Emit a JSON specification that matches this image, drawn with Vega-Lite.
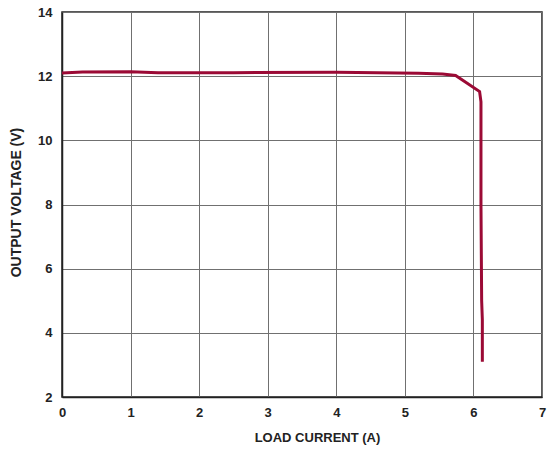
{
  "$schema": "https://vega.github.io/schema/vega-lite/v6.json",
  "width": 480,
  "height": 385,
  "autosize": {"type": "none"},
  "padding": {"left": 62, "top": 12, "right": 7, "bottom": 56},
  "background": "white",
  "config": {
    "view": {"stroke": "#222222", "strokeWidth": 1.5},
    "font": "Liberation Sans",
    "axis": {
      "labelFont": "Liberation Sans",
      "titleFont": "Liberation Sans",
      "labelFontWeight": "bold",
      "titleFontWeight": "bold",
      "labelFontSize": 13,
      "titleFontSize": 13,
      "labelColor": "#222222",
      "titleColor": "#222222",
      "labelFlush": false,
      "labelOverlap": false,
      "gridColor": "#707070",
      "gridOpacity": 1,
      "gridWidth": 1,
      "domainColor": "#222222",
      "domainWidth": 1.5,
      "ticks": false
    }
  },
  "data": {
    "values": [
      {"i": 0, "current": 0.0, "voltage": 12.1},
      {"i": 1, "current": 0.3, "voltage": 12.13},
      {"i": 2, "current": 1.0, "voltage": 12.14},
      {"i": 3, "current": 1.4, "voltage": 12.11},
      {"i": 4, "current": 2.5, "voltage": 12.11},
      {"i": 5, "current": 4.0, "voltage": 12.12},
      {"i": 6, "current": 4.6, "voltage": 12.11},
      {"i": 7, "current": 5.2, "voltage": 12.09},
      {"i": 8, "current": 5.55, "voltage": 12.07},
      {"i": 9, "current": 5.74, "voltage": 12.02},
      {"i": 10, "current": 6.09, "voltage": 11.52},
      {"i": 11, "current": 6.11, "voltage": 11.2},
      {"i": 12, "current": 6.11, "voltage": 8.0},
      {"i": 13, "current": 6.12, "voltage": 5.0},
      {"i": 14, "current": 6.13, "voltage": 4.4},
      {"i": 15, "current": 6.13, "voltage": 3.1}
    ]
  },
  "mark": {"type": "line", "color": "#9b0a35", "strokeWidth": 3, "interpolate": "linear"},
  "encoding": {
    "x": {
      "field": "current",
      "type": "quantitative",
      "scale": {"domain": [0, 7], "nice": false, "zero": false},
      "axis": {
        "title": "LOAD CURRENT (A)",
        "values": [0, 1, 2, 3, 4, 5, 6, 7],
        "labelPadding": 9,
        "titlePadding": 12,
        "titleX": 255
      }
    },
    "y": {
      "field": "voltage",
      "type": "quantitative",
      "scale": {"domain": [2, 14], "nice": false, "zero": false},
      "axis": {
        "title": "OUTPUT VOLTAGE (V)",
        "titleFontSize": 14,
        "values": [2, 4, 6, 8, 10, 12, 14],
        "labelPadding": 10,
        "titlePadding": 14,
        "titleY": 190
      }
    },
    "order": {"field": "i", "type": "quantitative"}
  }
}
